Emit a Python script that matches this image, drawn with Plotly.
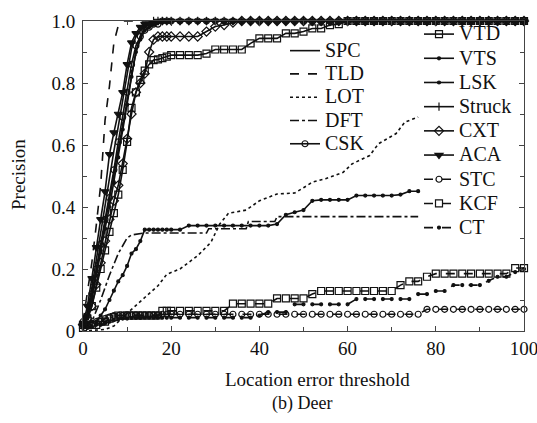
import plotly.graph_objects as go

# Common threshold grid for the marker series
G = list(range(0, 21)) + list(range(22, 101, 2))

ONES40 = [1] * 40

ACA = [0.02, 0.08, 0.17, 0.27, 0.36, 0.45, 0.57, 0.64, 0.70, 0.77, 0.86, 0.93, 0.96, 0.98, 0.99, 0.99, 0.995, 1, 1, 1, 1] + ONES40
CSK = [0.03, 0.05, 0.12, 0.20, 0.28, 0.36, 0.43, 0.52, 0.61, 0.69, 0.77, 0.86, 0.92, 0.95, 0.97, 0.98, 0.99, 0.99, 1, 1, 1] + ONES40
VTS = [0.02, 0.04, 0.10, 0.18, 0.26, 0.33, 0.40, 0.48, 0.56, 0.65, 0.73, 0.82, 0.90, 0.94, 0.97, 0.98, 0.99, 1, 1, 1, 1] + ONES40
STRUCK = [0.02, 0.05, 0.11, 0.19, 0.27, 0.35, 0.42, 0.50, 0.58, 0.66, 0.74, 0.83, 0.90, 0.95, 0.98, 0.99, 1, 1, 1, 1, 1] + ONES40
CXT = ([0.02, 0.04, 0.08, 0.15, 0.22, 0.29, 0.36, 0.42, 0.47, 0.54, 0.62, 0.70, 0.77, 0.80, 0.83, 0.90, 0.94, 0.95, 0.95, 0.95, 0.95]
       + [0.95, 0.95, 0.95, 0.966, 0.982, 0.987, 0.995] + [1] * 33)
VTD = ([0.02, 0.04, 0.08, 0.14, 0.20, 0.26, 0.32, 0.38, 0.44, 0.52, 0.61, 0.72, 0.77, 0.81, 0.84, 0.86, 0.874, 0.876, 0.88, 0.885, 0.89]
       + [0.89, 0.89, 0.89, 0.895, 0.908, 0.908, 0.908, 0.908, 0.928, 0.944, 0.944, 0.944, 0.96, 0.96, 0.966, 0.976, 0.976, 0.987, 0.99]
       + [1] * 21)
LSK = ([0.02, 0.02, 0.03, 0.03, 0.05, 0.07, 0.10, 0.13, 0.16, 0.18, 0.21, 0.25, 0.264, 0.29, 0.327, 0.327, 0.327, 0.327, 0.327, 0.327, 0.327]
       + [0.327, 0.34] + [0.34] * 9
       + [0.345, 0.375, 0.383, 0.39, 0.42, 0.423, 0.423, 0.423, 0.423, 0.437, 0.437, 0.437, 0.437, 0.437, 0.44, 0.451, 0.451]
       + [None] * 12)
KCF = ([0.01, 0.02, 0.02, 0.02, 0.03, 0.03, 0.04, 0.045, 0.05, 0.05, 0.05, 0.05, 0.05, 0.05, 0.05, 0.05, 0.05, 0.05, 0.065, 0.065, 0.065]
       + [0.065] * 6 + [0.088] * 5 + [0.105] * 4 + [0.119] + [0.129] * 9
       + [0.148, 0.16, 0.16, 0.175] + [0.185] * 9 + [0.203, 0.203])
STC = ([0.02, 0.02, 0.02, 0.03, 0.03, 0.04, 0.045, 0.05, 0.05, 0.05, 0.052, 0.052, 0.052, 0.052, 0.052, 0.052, 0.052, 0.052, 0.054, 0.054, 0.054]
       + [0.054] * 28 + [0.07] * 12)
CT = ([0.01, 0.01, 0.015, 0.02, 0.02, 0.025, 0.03, 0.035, 0.038, 0.04, 0.04, 0.042, 0.042, 0.042, 0.043, 0.043, 0.043, 0.043, 0.043, 0.043, 0.043]
      + [0.043] * 9 + [0.05, 0.061, 0.061, 0.061] + [0.086] * 7 + [0.103] * 7
      + [0.119, 0.119, 0.129, 0.129] + [0.148] * 4 + [0.162, 0.175, 0.175, 0.19, 0.2])

# Line-only series
SPC_X = [0, 1, 2, 3, 4, 5, 6, 7, 8, 9, 10, 11, 12, 13, 14, 15, 16, 18, 20, 100]
SPC_Y = [0.02, 0.06, 0.14, 0.23, 0.32, 0.40, 0.49, 0.58, 0.66, 0.74, 0.83, 0.91, 0.95, 0.97, 0.98, 0.99, 0.995, 1, 1, 1]
TLD_X = [0, 1, 2, 3, 4, 5, 6, 7, 8, 9, 100]
TLD_Y = [0.03, 0.12, 0.22, 0.34, 0.47, 0.68, 0.79, 0.93, 0.985, 1, 1]
LOT_X = [0, 5, 7, 10, 14, 17, 19, 22, 26, 29, 31, 33, 37, 40, 44, 48, 50, 52, 55, 59, 61, 65, 67, 71, 73, 76]
LOT_Y = [0.0, 0.005, 0.016, 0.057, 0.108, 0.146, 0.183, 0.2, 0.243, 0.286, 0.345, 0.38, 0.39, 0.42, 0.442, 0.445,
         0.462, 0.48, 0.491, 0.512, 0.539, 0.566, 0.604, 0.637, 0.674, 0.69]
DFT_X = [0, 2, 4, 6, 8, 10, 11, 14, 28, 28.5, 37, 37.5, 43.5, 44, 76]
DFT_Y = [0.02, 0.03, 0.1, 0.18, 0.25, 0.30, 0.31, 0.316, 0.316, 0.33, 0.33, 0.353, 0.353, 0.369, 0.369]

XTICKS = [0, 20, 40, 60, 80, 100]
XTICKTEXT = ["0", "20", "40", "60", "80", "100"]
YTICKS = [0, 0.2, 0.4, 0.6, 0.8, 1.0]
YTICKTEXT = ["0", "0.2", "0.4", "0.6", "0.8", "1.0"]

FONT = "Liberation Serif"
BLACK = "#111111"
AXC = "#444444"

# plot area in pixels
PL, PT, PW, PH = 83, 21, 441, 310


def px_x(px):
    return (px - PL) / PW


def px_y(py):
    return (PT + PH - py) / PH


def big(name):
    return "<span style='font-size:20px'>" + name + "</span>"


fig = go.Figure()


def line_trace(name, x, y, dash, legend):
    fig.add_trace(go.Scatter(x=x, y=y, name=big(name), mode="lines", legend=legend, cliponaxis=False,
                             line=dict(color=BLACK, width=1.6, dash=dash)))


def marker_trace(name, y, dash, symbol, size, legend, lw=1.6, mlw=1.2):
    fig.add_trace(go.Scatter(x=G, y=y, name=big(name), mode="lines+markers", legend=legend, cliponaxis=False,
                             line=dict(color=BLACK, width=lw, dash=dash),
                             marker=dict(symbol=symbol, size=size, color=BLACK,
                                         line=dict(color=BLACK, width=mlw))))


line_trace("SPC", SPC_X, SPC_Y, "solid", "legend")
line_trace("TLD", TLD_X, TLD_Y, "dash", "legend")
line_trace("LOT", LOT_X, LOT_Y, "dot", "legend")
line_trace("DFT", DFT_X, DFT_Y, "dashdot", "legend")
marker_trace("CSK", CSK, "solid", "circle-open", 6, "legend")

marker_trace("VTD", VTD, "solid", "square-open", 7, "legend2")
marker_trace("VTS", VTS, "solid", "circle", 3, "legend2")
marker_trace("LSK", LSK, "solid", "circle", 3, "legend2")
marker_trace("Struck", STRUCK, "solid", "line-ns-open", 6, "legend2")
marker_trace("CXT", CXT, "solid", "diamond-open", 7, "legend2")
marker_trace("ACA", ACA, "solid", "triangle-down", 7, "legend2")
marker_trace("STC", STC, "dash", "circle-open", 6, "legend2")
marker_trace("KCF", KCF, "dash", "square-open", 7, "legend2")
marker_trace("CT", CT, "dash", "circle", 3, "legend2")

axis_common = dict(showline=True, linecolor=AXC, linewidth=1, mirror="ticks",
                   ticks="inside", ticklen=5, tickcolor=AXC, showgrid=False, zeroline=False,
                   ticklabeloverflow="allow",
                   tickfont=dict(family=FONT, size=19, color=BLACK))

fig.update_xaxes(range=[0, 100], tickvals=XTICKS, ticktext=XTICKTEXT,
                 minor=dict(dtick=10, tick0=0, ticks="inside", ticklen=4, tickcolor=AXC),
                 **axis_common)
fig.update_yaxes(range=[0, 1], tickvals=YTICKS, ticktext=YTICKTEXT, ticklabelstandoff=3,
                 minor=dict(dtick=0.1, tick0=0, ticks="inside", ticklen=4, tickcolor=AXC),
                 **axis_common)

legend_common = dict(bgcolor="rgba(0,0,0,0)", borderwidth=0, xref="paper", yref="paper",
                     xanchor="left", traceorder="normal")

fig.update_layout(
    width=537, height=423,
    margin=dict(l=PL, r=537 - PL - PW, t=PT, b=423 - PT - PH, autoexpand=False),
    paper_bgcolor="white", plot_bgcolor="white",
    font=dict(family=FONT, color=BLACK),
    legend=dict(x=px_x(285), y=px_y(34), yanchor="top",
                font=dict(family=FONT, size=15.6, color=BLACK), **legend_common),
    legend2=dict(x=px_x(419), y=px_y(245), yanchor="bottom",
                 font=dict(family=FONT, size=16.3, color=BLACK), **legend_common),
    annotations=[
        dict(text="Location error threshold", xref="paper", yref="paper",
             x=px_x(317), y=px_y(380), showarrow=False,
             font=dict(family=FONT, size=19, color=BLACK), xanchor="center", yanchor="middle"),
        dict(text="(b) Deer", xref="paper", yref="paper",
             x=px_x(302), y=px_y(404), showarrow=False,
             font=dict(family=FONT, size=18, color=BLACK), xanchor="center", yanchor="middle"),
        dict(text="Precision", xref="paper", yref="paper",
             x=px_x(18), y=px_y(175), showarrow=False, textangle=-90,
             font=dict(family=FONT, size=19, color=BLACK), xanchor="center", yanchor="middle"),
    ],
)

fig.write_html("out.html")
